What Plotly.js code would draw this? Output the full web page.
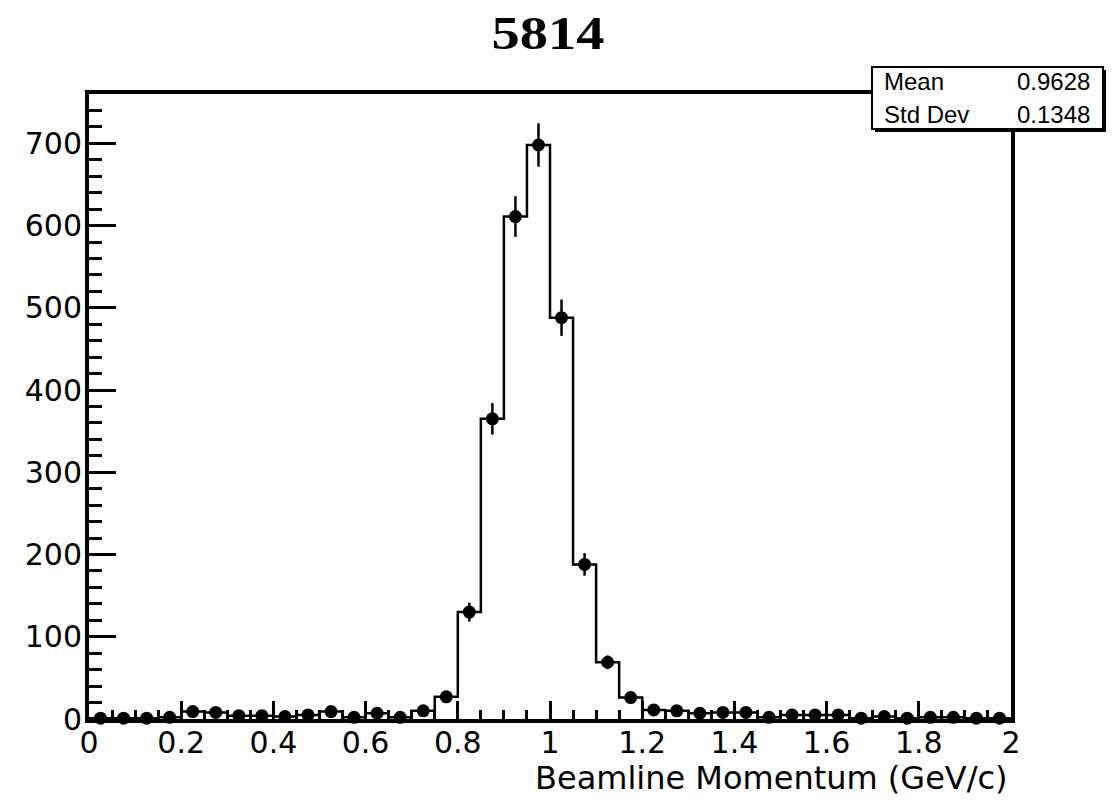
<!DOCTYPE html>
<html>
<head>
<meta charset="utf-8">
<script src="https://cdn.plot.ly/plotly-3.0.1.min.js"></script>
<style>
html,body{margin:0;padding:0;background:#fff;}
#plot{width:1115px;height:802px;}
.gtitle{transform:scaleX(1.2);transform-box:fill-box;transform-origin:center;}
</style>
</head>
<body>
<div id="plot"></div>
<script>
// Histogram: 40 bins from 0 to 2 GeV/c
const binLow = 0;
const binWidth = 0.05;
const counts = [1, 1, 1, 2, 9, 8, 4, 4, 3, 5,
                9, 2, 7, 2, 10, 27, 130, 365, 611, 698,
                488, 188, 69, 26, 11, 10, 7, 8, 8, 2,
                5, 5, 5, 1, 3, 1, 2, 2, 1, 1];
const titleText = "5814";
const xTitle = "Beamline Momentum (GeV/c)";
const statLabels = ["Mean", "Std Dev"];
const statValues = ["0.9628", "0.1348"];

const centers = counts.map((c, i) => binLow + (i + 0.5) * binWidth);
const edges = counts.map((c, i) => binLow + i * binWidth).concat([binLow + counts.length * binWidth]);
const stepY = counts.concat([counts[counts.length - 1]]);
const errs = counts.map(c => Math.sqrt(c));

const W = 1115, H = 802;
const mL = 89, mR = 104, mT = 94, mB = 83;
const pw = W - mL - mR, ph = H - mT - mB;
const px = x => (x - mL) / pw;
const py = y => (H - mB - y) / ph;

const font = "DejaVu Sans, Arial, Helvetica, sans-serif";
const statFont = "Liberation Sans, Arial, Helvetica, sans-serif";

const traces = [
  {
    type: 'scatter', mode: 'lines', x: edges, y: stepY,
    line: {shape: 'hv', color: '#000', width: 2.5},
    hoverinfo: 'skip', showlegend: false
  },
  {
    type: 'scatter', mode: 'markers', x: centers, y: counts,
    marker: {symbol: 'circle', size: 13, color: '#000'},
    error_y: {type: 'data', array: errs, visible: true, color: '#000', thickness: 2.5, width: 0},
    showlegend: false, cliponaxis: false
  }
];

const boxX0 = px(872), boxX1 = px(1103), boxY0 = py(129), boxY1 = py(67);

const layout = {
  width: W, height: H,
  margin: {l: mL, r: mR, t: mT, b: mB},
  paper_bgcolor: '#fff', plot_bgcolor: '#fff',
  showlegend: false,
  title: {
    text: '<b>' + titleText + '</b>',
    font: {family: "Liberation Serif, Times New Roman, serif", size: 47, color: '#000'},
    x: 548 / W, xanchor: 'center', xref: 'container',
    y: 1 - 33 / H, yanchor: 'middle', yref: 'container'
  },
  xaxis: {
    range: [0, 2], dtick: 0.2, tick0: 0,
    ticks: 'inside', ticklen: 18, tickwidth: 3, tickcolor: '#000',
    minor: {dtick: 0.05, ticks: 'inside', ticklen: 9, tickwidth: 3, tickcolor: '#000'},
    showline: true, linewidth: 4, linecolor: '#000', mirror: true,
    showgrid: false, zeroline: false,
    tickfont: {family: font, size: 30, color: '#000'},
    ticklabelstandoff: -6,
    fixedrange: true
  },
  yaxis: {
    range: [0, 760], dtick: 100, tick0: 0,
    ticks: 'inside', ticklen: 27, tickwidth: 3, tickcolor: '#000',
    minor: {dtick: 20, ticks: 'inside', ticklen: 13, tickwidth: 3, tickcolor: '#000'},
    showline: true, linewidth: 4, linecolor: '#000', mirror: true,
    showgrid: false, zeroline: false,
    tickfont: {family: font, size: 30, color: '#000'},
    ticklabelstandoff: -3,
    fixedrange: true
  },
  shapes: [
    {type: 'rect', xref: 'paper', yref: 'paper', x0: boxX0 + 3 / pw, x1: boxX1 + 3 / pw, y0: boxY0 - 3 / ph, y1: boxY1 - 3 / ph,
     fillcolor: '#000', line: {width: 0}, layer: 'above'},
    {type: 'rect', xref: 'paper', yref: 'paper', x0: boxX0, x1: boxX1, y0: boxY0, y1: boxY1,
     fillcolor: '#fff', line: {color: '#000', width: 2}, layer: 'above'}
  ],
  annotations: [
    {text: statLabels[0], xref: 'paper', yref: 'paper', x: px(882), y: py(82), xanchor: 'left', yanchor: 'middle', showarrow: false,
     font: {family: statFont, size: 24, color: '#000'}},
    {text: statValues[0], xref: 'paper', yref: 'paper', x: px(1092), y: py(82), xanchor: 'right', yanchor: 'middle', showarrow: false,
     font: {family: statFont, size: 24, color: '#000'}},
    {text: statLabels[1], xref: 'paper', yref: 'paper', x: px(882), y: py(114), xanchor: 'left', yanchor: 'middle', showarrow: false,
     font: {family: statFont, size: 24, color: '#000'}},
    {text: statValues[1], xref: 'paper', yref: 'paper', x: px(1092), y: py(114), xanchor: 'right', yanchor: 'middle', showarrow: false,
     font: {family: statFont, size: 24, color: '#000'}},
    {text: xTitle, xref: 'paper', yref: 'paper', x: px(1010), y: py(778), xanchor: 'right', yanchor: 'middle', showarrow: false,
     font: {family: font, size: 32, color: '#000'}}
  ]
};

Plotly.newPlot('plot', traces, layout, {displayModeBar: false, staticPlot: true});
</script>
</body>
</html>
